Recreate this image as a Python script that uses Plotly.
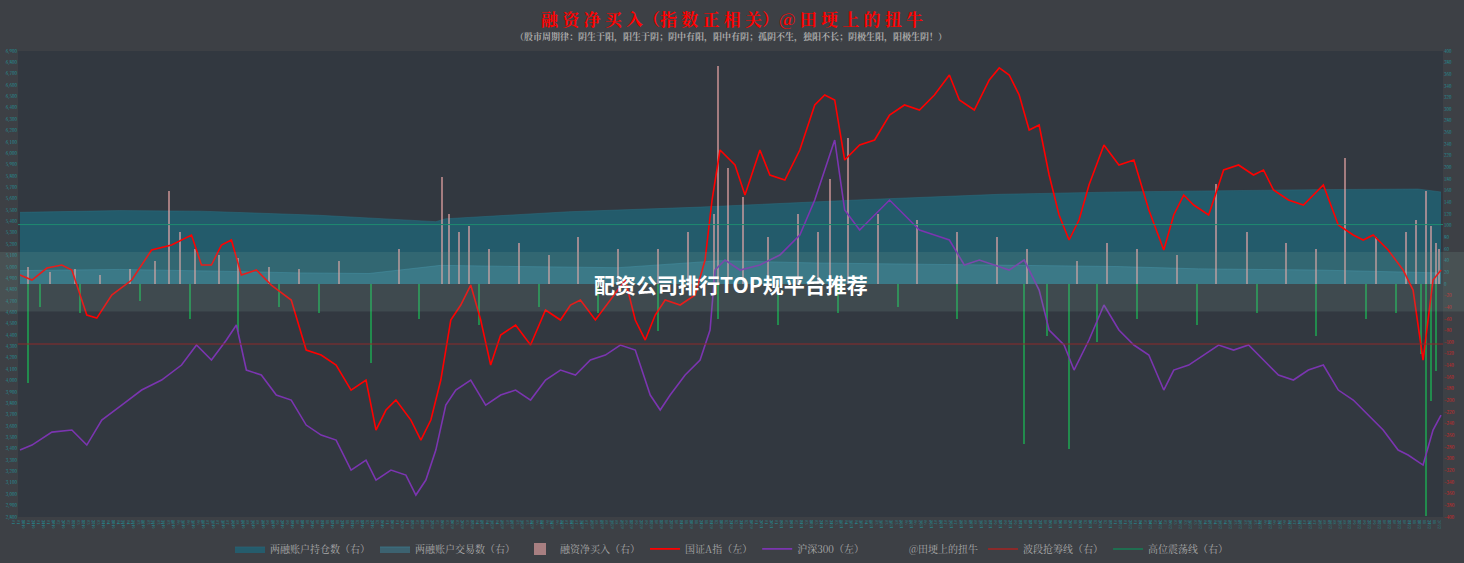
import plotly.graph_objects as go
import pandas as pd

base = pd.Timestamp("2019-01-02")
def d(lst): return [base + pd.Timedelta(days=int(v)) for v in lst]

# 国证A指 (left)
red_day = [0,12,27,42,52,67,77,92,112,132,152,172,182,192,202,212,222,237,252,272,287,302,317,332,347,357,367,377,392,402,412,422,432,442,452,462,472,482,497,512,527,542,552,562,577,592,607,617,627,637,647,662,677,687,694,702,717,727,742,752,767,782,797,807,817,827,842,857,872,887,902,917,932,942,957,972,982,992,1002,1012,1022,1032,1042,1052,1062,1072,1087,1102,1117,1132,1147,1157,1167,1177,1192,1207,1222,1237,1247,1257,1272,1287,1307,1322,1337,1347,1357,1372,1387,1397,1407,1417,1425]
red_val = [4930,4885,4990,5017,4973,4577,4550,4753,4885,5149,5193,5281,5017,5017,5193,5237,4929,4973,4841,4709,4269,4225,4137,3917,4005,3565,3741,3829,3653,3477,3653,4005,4533,4665,4841,4533,4137,4401,4489,4313,4621,4533,4665,4709,4533,4709,4885,4533,4357,4577,4709,4665,4753,5061,5589,6029,5897,5633,6029,5809,5765,6029,6425,6513,6469,5941,6073,6117,6337,6425,6381,6513,6689,6469,6381,6645,6751,6689,6513,6205,6249,5809,5457,5237,5413,5721,6073,5897,5941,5501,5149,5457,5633,5545,5457,5853,5897,5809,5853,5677,5589,5545,5721,5369,5281,5237,5281,5149,4973,4797,4181,4885,4973]
# 沪深300 (left)
pur_day = [0,12,32,52,67,82,102,122,142,162,177,192,207,217,227,242,257,272,287,302,317,332,347,357,372,387,397,407,417,427,437,452,467,482,497,512,527,542,557,572,587,602,617,632,642,652,667,682,692,697,707,722,742,762,782,797,807,817,827,842,857,872,887,902,917,932,947,962,977,992,1007,1022,1032,1047,1057,1072,1087,1102,1117,1132,1147,1157,1172,1187,1202,1217,1232,1247,1262,1277,1292,1307,1322,1337,1352,1367,1382,1392,1407,1417,1425]
pur_val = [3389,3433,3547,3565,3433,3653,3785,3917,4005,4137,4313,4181,4357,4489,4093,4049,3873,3829,3609,3521,3477,3213,3301,3125,3213,3169,2993,3125,3389,3785,3917,4005,3785,3873,3917,3829,4005,4093,4049,4181,4225,4313,4269,3873,3741,3873,4049,4181,4445,4973,5061,4973,5017,5105,5281,5589,5853,6117,5501,5325,5457,5589,5457,5325,5281,5237,5017,5061,5017,4973,5061,4797,4445,4313,4093,4357,4665,4445,4313,4225,3917,4093,4137,4225,4313,4269,4313,4181,4049,4005,4093,4137,3917,3829,3697,3565,3389,3345,3257,3565,3697]
# 两融账户持仓数 (right)
hold_day = [0,100,182,300,417,427,550,682,850,982,1100,1182,1300,1402,1425]
hold_val = [123,126,125,118,107,112,124,132,145,154,158,160,162,163,158]
# 两融账户交易数 (right)
trade_day = [0,100,200,282,350,422,500,600,702,800,900,982,1100,1182,1300,1425]
trade_val = [23,25,22,19,18,32,30,28,40,36,34,32,30,26,24,19]
# 融资净买入 (right)
buy_day = [8,30,55,80,110,135,149,160,175,200,219,250,280,320,380,423,430,440,450,470,500,530,560,600,640,670,696,700,710,725,750,780,800,812,830,860,900,940,980,1010,1060,1090,1120,1160,1199,1230,1270,1300,1329,1360,1390,1400,1410,1415,1420,1423]
buy_val = [30,20,25,15,25,40,160,90,60,50,45,30,25,40,60,184,120,90,100,60,70,50,80,60,60,90,120,374,200,150,80,120,90,180,250,120,110,90,80,60,40,70,60,50,172,90,70,60,216,80,90,110,160,100,70,60]
sell_day = [8,20,60,120,170,219,260,300,352,400,460,520,580,640,700,760,820,880,940,1007,1030,1052,1080,1120,1180,1240,1300,1350,1380,1405,1410,1415,1420]
sell_val = [-170,-40,-50,-30,-60,-82,-40,-50,-135,-60,-70,-40,-50,-80,-60,-70,-50,-40,-60,-275,-90,-284,-100,-60,-70,-50,-90,-60,-50,-120,-398,-200,-150]

teal = "#1f9aa0"
fig = go.Figure()
fig.add_trace(go.Scatter(x=d(hold_day), y=hold_val, yaxis="y2", name="两融账户持仓数（右）", mode="lines",
    line=dict(color="#2a6f80", width=0.5), fill="tozeroy", fillcolor="rgba(33,98,115,0.85)"))
fig.add_trace(go.Scatter(x=d(trade_day), y=trade_val, yaxis="y2", name="两融账户交易数（右）", mode="lines",
    line=dict(color="#3a8fa8", width=0.5), fill="tozeroy", fillcolor="rgba(60,140,165,0.45)"))
fig.add_trace(go.Bar(x=d(buy_day), y=buy_val, yaxis="y4", name="融资净买入（右）", marker_color="rgba(240,170,170,0.6)",
    marker_line_width=0, width=2*86400000))
fig.add_trace(go.Bar(x=d(sell_day), y=sell_val, yaxis="y4", showlegend=False, marker_color="rgba(30,160,80,0.8)",
    marker_line_width=0, width=2*86400000))
fig.add_trace(go.Scatter(x=d(red_day), y=red_val, yaxis="y5", name="国证A指（左）", mode="lines", line=dict(color="#ff0000", width=1.6)))
fig.add_trace(go.Scatter(x=d(pur_day), y=pur_val, yaxis="y5", name="沪深300（左）", mode="lines", line=dict(color="#7b35b0", width=1.6)))
fig.add_trace(go.Scatter(x=[None], y=[None], name="@田埂上的扭牛", mode="lines", line=dict(color="rgba(0,0,0,0)")))
fig.add_trace(go.Scatter(x=[None], y=[None], name="波段抢筹线（右）", mode="lines", line=dict(color="#8b2a2a")))
fig.add_trace(go.Scatter(x=[None], y=[None], name="高位震荡线（右）", mode="lines", line=dict(color="#1f6e50")))
fig.add_trace(go.Scatter(x=[None], y=[None], yaxis="y3", showlegend=False))

fig.update_layout(
    width=1464, height=563, paper_bgcolor="#3d4045", plot_bgcolor="#323840",
    margin=dict(l=18, r=21, t=51, b=46, autoexpand=False), barmode="overlay", bargap=0,
    font=dict(family="Noto Serif CJK SC, Noto Sans CJK SC", color="#aaaaaa"),
    xaxis=dict(range=[base - pd.Timedelta(days=2), base + pd.Timedelta(days=1427)], showgrid=False, automargin=False,
               tickformat="%Y<br>%m<br>%d", dtick=10*86400000, tickfont=dict(size=4, color=teal), ticks="", zeroline=False),
    yaxis=dict(range=[2800, 6900], dtick=100, showgrid=False, zeroline=False, automargin=False,
               tickfont=dict(size=4.5, color=teal), tickformat=","),
    yaxis2=dict(range=[-400, 400], overlaying="y", side="right", showgrid=False, zeroline=False, automargin=False,
                tickvals=list(range(0, 401, 20)), tickfont=dict(size=4.5, color=teal)),
    yaxis3=dict(range=[-400, 400], overlaying="y", side="right", showgrid=False, zeroline=False, automargin=False,
                tickvals=list(range(-400, 0, 20)), tickfont=dict(size=4.5, color="#e02020")),
    yaxis4=dict(range=[-400, 400], overlaying="y", side="right", visible=False),
    yaxis5=dict(range=[2800, 6900], overlaying="y", side="left", visible=False),
    legend=dict(orientation="h", x=0.5, xanchor="center", xref="container", y=0.025, yref="container", yanchor="middle",
                font=dict(size=10, color="#aaaaaa"), bgcolor="rgba(0,0,0,0)", itemwidth=30),
    title=dict(text="<b>融 资 净 买 入（指 数 正 相 关）@ 田 埂 上 的 扭 牛</b>", x=0.5, y=0.975, yanchor="top",
               font=dict(family="Noto Serif CJK SC, Noto Sans CJK SC", size=17, color="#ff0000")),
    shapes=[
        dict(type="line", xref="paper", x0=0, x1=1, yref="y2", y0=102, y1=102, line=dict(color="#1f8a70", width=1)),
        dict(type="line", xref="paper", x0=0, x1=1, yref="y2", y0=-103, y1=-103, line=dict(color="#8b2a2a", width=1)),
        dict(type="rect", xref="paper", x0=-0.013, x1=1.015, yref="y2", y0=-47, y1=55, line_width=0,
             fillcolor="rgba(120,160,150,0.18)", layer="above"),
    ],
    annotations=[
        dict(text="<b>（股市周期律：阴生于阳，阳生于阴；阴中有阳，阳中有阴；孤阴不生，独阳不长；阴极生阳，阳极生阴！）</b>",
             xref="paper", yref="paper", x=0.5, y=1.0, yanchor="middle", yshift=15, showarrow=False,
             font=dict(size=9, color="#aaaaaa")),
        dict(text="<b>配资公司排行TOP规平台推荐</b>", xref="paper", yref="paper", x=0.5, y=0.5, showarrow=False,
             font=dict(family="Noto Sans CJK SC", size=21, color="#ffffff")),
    ],
)
fig.write_html("out.html", config={"displayModeBar": False},
               post_script="document.body.style.margin='0';document.body.style.overflow='hidden';")
